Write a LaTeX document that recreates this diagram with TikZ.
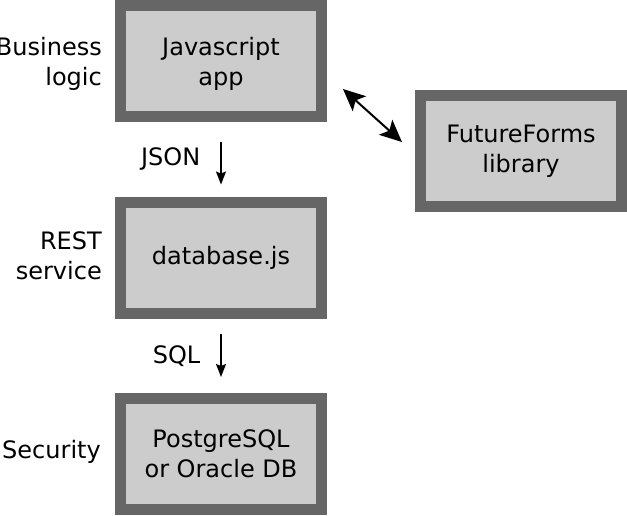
\documentclass[tikz,border=0pt]{standalone}
\usepackage{fontspec}
\setmainfont{DejaVu Sans}
\usetikzlibrary{arrows.meta}
\definecolor{boxedge}{HTML}{666666}
\definecolor{boxfill}{HTML}{CCCCCC}

\begin{document}
\begin{tikzpicture}[x=1pt,y=-1pt,font=\fontsize{24}{30}\selectfont]
            \useasboundingbox (0,0) rectangle (627,515);
            \begin{scope}[every node/.style={rectangle,draw=boxedge,fill=boxfill,line width=11pt,minimum width=201pt,minimum height=111pt,align=center}]
                \node[text depth=0pt] (app) at (221,61) {Javascript\\app};
                \node (db) at (221,257.5) {database.js};
                \node (pg) at (221,454) {PostgreSQL\\or Oracle DB};
                \node (ff) at (521,151) {FutureForms\\library};
            \end{scope}
            \begin{scope}[every node/.style={anchor=east,align=right,inner sep=0pt}]
                \node[text depth=0pt] (logic) at (102,61) {Business\\logic};
                \node (rest) at (102,256) {REST\\service};
                \node (sec) at (101,452) {Security};
            \end{scope}
            \coordinate (ffa) at (343,89);
            \coordinate (ffb) at (402,142);
            \draw (app) edge [-{Stealth[length=13pt,width=10pt,inset=2pt]}, line width=1.4pt, shorten <=20pt, shorten >=12pt] node[left=20pt,inner sep=0pt]{JSON} (db);
            \draw (db) edge [-{Stealth[length=13pt,width=10pt,inset=2pt]}, line width=1.4pt, shorten <=15pt, shorten >=16pt] node[left=20pt,inner sep=0pt]{SQL} (pg);
            \draw (ffa) edge [{Stealth[length=22pt,width=20pt,inset=5pt]}-{Stealth[length=22pt,width=20pt,inset=5pt]}, line width=2pt] (ffb);
        \end{tikzpicture}
\end{document}
